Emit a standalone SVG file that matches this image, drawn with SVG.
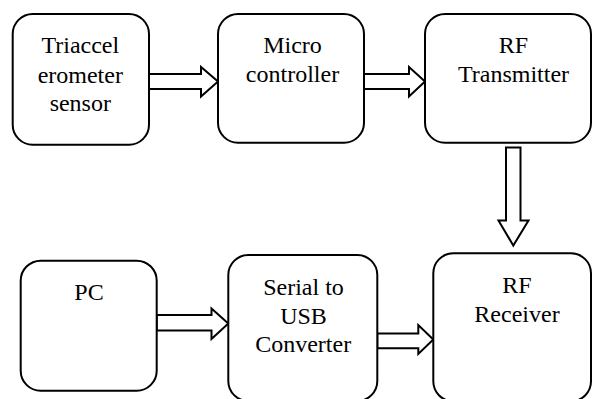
<svg xmlns="http://www.w3.org/2000/svg" width="593" height="399" viewBox="0 0 593 399">
  <style>
    .box { fill: #ffffff; stroke: #000000; stroke-width: 2; }
    .arrow { fill: #ffffff; stroke: #000000; stroke-width: 2; stroke-linejoin: miter; }
    .label { font-family: 'Liberation Serif', 'DejaVu Serif', serif; font-size: 24px; fill: #000000; text-anchor: middle; }
  </style>
  <rect width="593" height="399" fill="#ffffff"/>

  <!-- block arrows between stages -->
  <g id="connectors">
    <polygon class="arrow" points="149,74 201,74 201,67 218,81.5 201,96.5 201,89 149,89"/>
    <polygon class="arrow" points="364,74 409,74 409,67 425,81.5 409,96.5 409,89 364,89"/>
    <polygon class="arrow" points="506,147.5 520.5,147.5 520.5,220.5 528.5,220.5 513.3,245.5 498.5,220.5 506,220.5"/>
    <polygon class="arrow" points="156.7,315 211.5,315 211.5,308.5 228.3,323.5 211.5,339 211.5,330.5 156.7,330.5"/>
    <polygon class="arrow" points="377.3,333.5 418.3,333.5 418.3,325 433.3,339.5 418.3,354 418.3,348.3 377.3,348.3"/>
  </g>

  <g id="accelerometer">
    <rect class="box" x="12.7" y="14" width="136.3" height="130.7" rx="20" ry="20"/>
    <text class="label" x="80.3" y="53.3">Triaccel</text>
    <text class="label" x="80.3" y="82.5">erometer</text>
    <text class="label" x="80.3" y="111.3">sensor</text>
  </g>

  <g id="microcontroller">
    <rect class="box" x="218" y="14" width="146" height="128.7" rx="20" ry="20"/>
    <text class="label" x="292.5" y="53.3">Micro</text>
    <text class="label" x="292.5" y="82">controller</text>
  </g>

  <g id="rf-transmitter">
    <rect class="box" x="425" y="14" width="166" height="128.7" rx="20" ry="20"/>
    <text class="label" x="513.5" y="53.3">RF</text>
    <text class="label" x="513.5" y="82">Transmitter</text>
  </g>

  <g id="pc">
    <rect class="box" x="20.7" y="260.7" width="136" height="130" rx="20" ry="20"/>
    <text class="label" x="89" y="300">PC</text>
  </g>

  <g id="serial-usb">
    <rect class="box" x="228.3" y="255" width="149" height="146" rx="20" ry="20"/>
    <text class="label" x="303.5" y="295">Serial to</text>
    <text class="label" x="303.5" y="323.5">USB</text>
    <text class="label" x="303.2" y="351.7">Converter</text>
  </g>

  <g id="rf-receiver">
    <rect class="box" x="433.3" y="253.3" width="157.7" height="148" rx="20" ry="20"/>
    <text class="label" x="517" y="293.3">RF</text>
    <text class="label" x="517" y="321.7">Receiver</text>
  </g>
</svg>
